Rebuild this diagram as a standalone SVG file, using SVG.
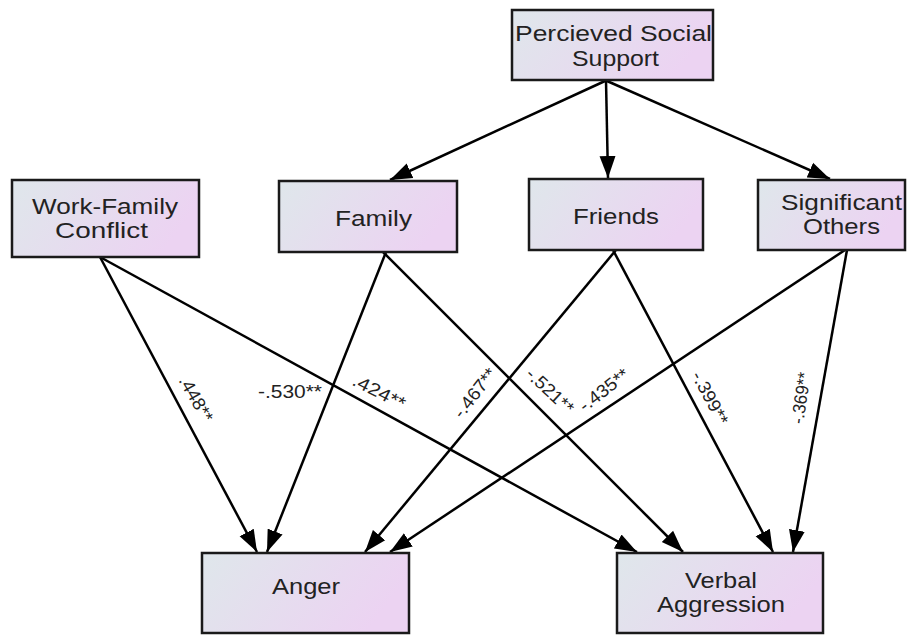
<svg xmlns="http://www.w3.org/2000/svg" width="917" height="635" viewBox="0 0 917 635">
<defs>
<linearGradient id="g" x1="0" y1="0" x2="1" y2="0.3">
<stop offset="0" stop-color="#dfe7eb"/>
<stop offset="1" stop-color="#ecd3f2"/>
</linearGradient>
<marker id="ah" markerUnits="userSpaceOnUse" markerWidth="24" markerHeight="18" refX="22" refY="9" orient="auto">
<path d="M0,1 L22,9 L0,17 z" fill="#000"/>
</marker>
<style>
.box{fill:url(#g);stroke:#1a1a1a;stroke-width:2.5}
.t{font-family:"Liberation Sans",Arial,sans-serif;font-size:22px;fill:#222}
.l{font-family:"Liberation Sans",Arial,sans-serif;font-size:18px;fill:#222}
.c{stroke:#000;stroke-width:2.5;fill:none;marker-end:url(#ah)}
</style>
</defs>
<rect width="917" height="635" fill="#fff"/>
<g id="connectors">
<line class="c" x1="605" y1="81" x2="390" y2="180"/>
<line class="c" x1="606" y1="81" x2="608" y2="178"/>
<line class="c" x1="607" y1="81" x2="830" y2="179"/>
<line class="c" x1="100" y1="257" x2="257" y2="552"/>
<line class="c" x1="100" y1="257" x2="637" y2="552"/>
<line class="c" x1="386" y1="252" x2="267" y2="552"/>
<line class="c" x1="383" y1="252" x2="683" y2="552"/>
<line class="c" x1="616" y1="250" x2="365" y2="552"/>
<line class="c" x1="613" y1="250" x2="773" y2="552"/>
<line class="c" x1="845" y1="250" x2="390" y2="552"/>
<line class="c" x1="847" y1="250" x2="793" y2="552"/>
</g>
<g id="labels">
<text class="l" text-anchor="middle" transform="translate(196,399) rotate(60)" y="6" textLength="50" lengthAdjust="spacingAndGlyphs">.448**</text>
<text class="l" x="258" y="398" textLength="64" lengthAdjust="spacingAndGlyphs">-.530**</text>
<text class="l" text-anchor="middle" transform="translate(379,392) rotate(27)" y="6" textLength="57" lengthAdjust="spacingAndGlyphs">.424**</text>
<text class="l" text-anchor="middle" transform="translate(475,393) rotate(-52)" y="6" textLength="58" lengthAdjust="spacingAndGlyphs">-.467**</text>
<text class="l" text-anchor="middle" transform="translate(550,391) rotate(43)" y="6" textLength="58" lengthAdjust="spacingAndGlyphs">-.521**</text>
<text class="l" text-anchor="middle" transform="translate(604,390) rotate(-38)" y="6" textLength="58" lengthAdjust="spacingAndGlyphs">-.435**</text>
<text class="l" text-anchor="middle" transform="translate(710,398) rotate(62)" y="6" textLength="58" lengthAdjust="spacingAndGlyphs">-.399**</text>
<text class="l" text-anchor="middle" transform="translate(801,398) rotate(-82)" y="6" textLength="52" lengthAdjust="spacingAndGlyphs">-.369**</text>
</g>
<g id="pss">
<rect class="box" x="512" y="10" width="201" height="70"/>
<text class="t" x="515" y="41" textLength="197" lengthAdjust="spacingAndGlyphs">Percieved Social</text>
<text class="t" x="572" y="66" textLength="87" lengthAdjust="spacingAndGlyphs">Support</text>
</g>
<g id="wfc">
<rect class="box" x="12" y="180" width="187" height="77"/>
<text class="t" x="32" y="214" textLength="146" lengthAdjust="spacingAndGlyphs">Work-Family</text>
<text class="t" x="55" y="238" textLength="93" lengthAdjust="spacingAndGlyphs">Conflict</text>
</g>
<g id="family">
<rect class="box" x="279" y="181" width="178" height="71"/>
<text class="t" x="335" y="226" textLength="77" lengthAdjust="spacingAndGlyphs">Family</text>
</g>
<g id="friends">
<rect class="box" x="529" y="179" width="174" height="71"/>
<text class="t" x="573" y="224" textLength="86" lengthAdjust="spacingAndGlyphs">Friends</text>
</g>
<g id="others">
<rect class="box" x="758" y="180" width="147" height="70"/>
<text class="t" x="781" y="210" textLength="121" lengthAdjust="spacingAndGlyphs">Significant</text>
<text class="t" x="803" y="234" textLength="77" lengthAdjust="spacingAndGlyphs">Others</text>
</g>
<g id="anger">
<rect class="box" x="202" y="553" width="207" height="80"/>
<text class="t" x="272" y="594" textLength="68" lengthAdjust="spacingAndGlyphs">Anger</text>
</g>
<g id="verbal">
<rect class="box" x="617" y="553" width="206" height="80"/>
<text class="t" x="685" y="588" textLength="72" lengthAdjust="spacingAndGlyphs">Verbal</text>
<text class="t" x="657" y="612" textLength="128" lengthAdjust="spacingAndGlyphs">Aggression</text>
</g>
</svg>
